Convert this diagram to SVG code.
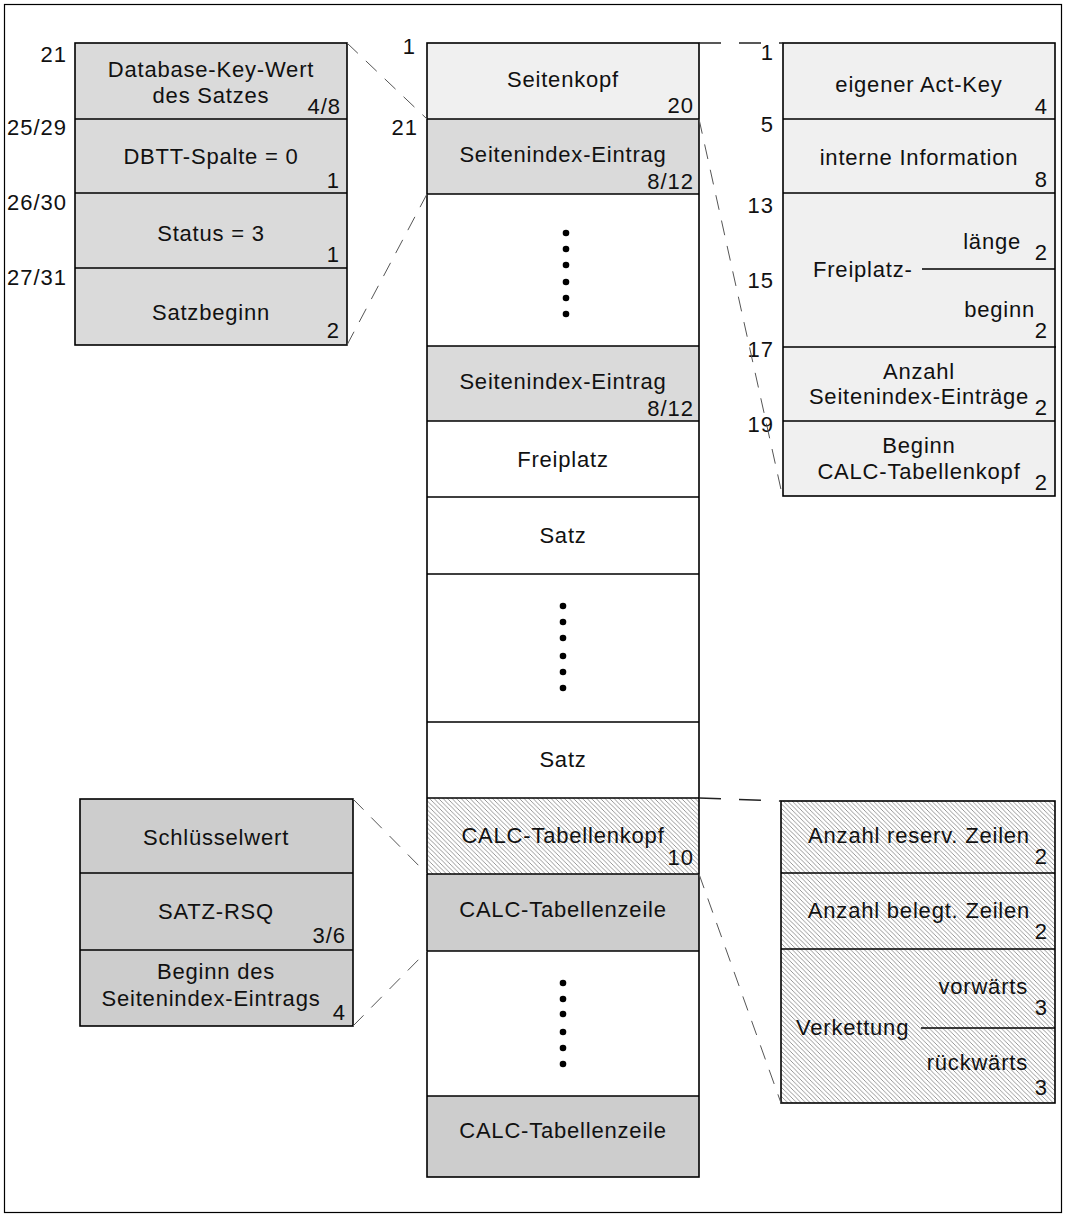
<svg xmlns="http://www.w3.org/2000/svg" width="1067" height="1217" viewBox="0 0 1067 1217">
  <defs>
    <pattern id="hatch" patternUnits="userSpaceOnUse" width="4.5" height="4.5">
      <rect width="4.5" height="4.5" fill="#ffffff"/>
      <path d="M-1,-1 L5.5,5.5 M-1,3.5 L1,5.5 M3.5,-1 L5.5,1" stroke="#8c8c8c" stroke-width="0.9"/>
    </pattern>
  </defs>
  <style>
    text { font-family: "Liberation Sans", Arial, sans-serif; font-size: 22px; fill: #111; }
    .t { letter-spacing: 0.8px; text-anchor: middle; }
    .n { letter-spacing: 1px; text-anchor: end; }
    .l { letter-spacing: 0.8px; text-anchor: start; }
    .e { letter-spacing: 0.8px; text-anchor: end; }
    .sep { stroke: #000; stroke-width: 1.6; fill: none; }
    .light { fill: #f0f0f0; }
    .mid { fill: #dadada; }
    .dark { fill: #cdcdcd; }
    .white { fill: #ffffff; }
    .hatched { fill: url(#hatch); }
    .dash { stroke: #555; stroke-width: 1; stroke-dasharray: 15 11; fill: none; }
    .hdash { stroke: #222; stroke-width: 1.6; stroke-dasharray: 22 18; fill: none; }
  </style>

  <!-- outer frame -->
  <rect x="4.5" y="4.5" width="1057" height="1208" fill="#ffffff" stroke="#000" stroke-width="1.2"/>

  <!-- page layout column -->
  <g id="page">
    <rect class="light" x="427" y="43" width="272" height="76"/>
    <rect class="mid" x="427" y="119" width="272" height="75"/>
    <rect class="white" x="427" y="194" width="272" height="152"/>
    <rect class="mid" x="427" y="346" width="272" height="75"/>
    <rect class="white" x="427" y="421" width="272" height="377"/>
    <rect class="hatched" x="427" y="798" width="272" height="76"/>
    <rect class="dark" x="427" y="874" width="272" height="77"/>
    <rect class="white" x="427" y="951" width="272" height="145"/>
    <rect class="dark" x="427" y="1096" width="272" height="81"/>
    <rect class="sep" x="427" y="43" width="272" height="1134"/>
    <path class="sep" d="M427,119H699 M427,194H699 M427,346H699 M427,421H699 M427,497H699 M427,574H699 M427,722H699 M427,798H699 M427,874H699 M427,951H699 M427,1096H699"/>

    <text class="n" x="416" y="54">1</text>
    <text class="n" x="418" y="135">21</text>

    <text class="t" x="563" y="87">Seitenkopf</text>
    <text class="n" x="694" y="113">20</text>
    <text class="t" x="563" y="162">Seitenindex-Eintrag</text>
    <text class="n" x="694" y="189">8/12</text>

    <g fill="#000">
      <circle cx="566" cy="233" r="3.3"/>
      <circle cx="566" cy="249" r="3.3"/>
      <circle cx="566" cy="265" r="3.3"/>
      <circle cx="566" cy="282" r="3.3"/>
      <circle cx="566" cy="298" r="3.3"/>
      <circle cx="566" cy="314" r="3.3"/>
    </g>

    <text class="t" x="563" y="389">Seitenindex-Eintrag</text>
    <text class="n" x="694" y="416">8/12</text>
    <text class="t" x="563" y="467">Freiplatz</text>
    <text class="t" x="563" y="543">Satz</text>

    <g fill="#000">
      <circle cx="563" cy="606" r="3.3"/>
      <circle cx="563" cy="622" r="3.3"/>
      <circle cx="563" cy="638" r="3.3"/>
      <circle cx="563" cy="656" r="3.3"/>
      <circle cx="563" cy="672" r="3.3"/>
      <circle cx="563" cy="688" r="3.3"/>
    </g>

    <text class="t" x="563" y="767">Satz</text>
    <text class="t" x="563" y="843">CALC-Tabellenkopf</text>
    <text class="n" x="694" y="865">10</text>
    <text class="t" x="563" y="917">CALC-Tabellenzeile</text>

    <g fill="#000">
      <circle cx="563" cy="983" r="3.3"/>
      <circle cx="563" cy="999" r="3.3"/>
      <circle cx="563" cy="1014" r="3.3"/>
      <circle cx="563" cy="1032" r="3.3"/>
      <circle cx="563" cy="1048" r="3.3"/>
      <circle cx="563" cy="1064" r="3.3"/>
    </g>

    <text class="t" x="563" y="1138">CALC-Tabellenzeile</text>
  </g>

  <!-- record index entry detail -->
  <g id="index-entry">
    <rect class="mid" x="75" y="43" width="272" height="302"/>
    <rect class="sep" x="75" y="43" width="272" height="302"/>
    <path class="sep" d="M75,119H347 M75,193H347 M75,268H347"/>
    <text class="n" x="67" y="62">21</text>
    <text class="n" x="67" y="135">25/29</text>
    <text class="n" x="67" y="210">26/30</text>
    <text class="n" x="67" y="285">27/31</text>
    <text class="t" x="211" y="77">Database-Key-Wert</text>
    <text class="t" x="211" y="103">des Satzes</text>
    <text class="n" x="341" y="114">4/8</text>
    <text class="t" x="211" y="164">DBTT-Spalte = 0</text>
    <text class="n" x="340" y="188">1</text>
    <text class="t" x="211" y="241">Status = 3</text>
    <text class="n" x="340" y="262">1</text>
    <text class="t" x="211" y="320">Satzbeginn</text>
    <text class="n" x="340" y="338">2</text>
  </g>

  <!-- page header detail -->
  <g id="page-header">
    <rect class="light" x="783" y="43" width="272" height="453"/>
    <rect class="sep" x="783" y="43" width="272" height="453"/>
    <path class="sep" d="M783,119H1055 M783,193H1055 M922,269H1055 M783,347H1056 M783,421H1055"/>
    <text class="n" x="774" y="60">1</text>
    <text class="n" x="774" y="132">5</text>
    <text class="n" x="774" y="213">13</text>
    <text class="n" x="774" y="288">15</text>
    <text class="n" x="774" y="357">17</text>
    <text class="n" x="774" y="432">19</text>
    <text class="t" x="919" y="92">eigener Act-Key</text>
    <text class="n" x="1048" y="114">4</text>
    <text class="t" x="919" y="165">interne Information</text>
    <text class="n" x="1048" y="187">8</text>
    <text class="l" x="813" y="277">Freiplatz-</text>
    <text class="e" x="1021" y="249">länge</text>
    <text class="n" x="1048" y="260">2</text>
    <text class="e" x="1035" y="317">beginn</text>
    <text class="n" x="1048" y="338">2</text>
    <text class="t" x="919" y="379">Anzahl</text>
    <text class="t" x="919" y="404">Seitenindex-Einträge</text>
    <text class="n" x="1048" y="415">2</text>
    <text class="t" x="919" y="453">Beginn</text>
    <text class="t" x="919" y="479">CALC-Tabellenkopf</text>
    <text class="n" x="1048" y="490">2</text>
  </g>

  <!-- CALC table header detail -->
  <g id="calc-header">
    <rect class="hatched" x="781" y="801" width="274" height="302"/>
    <rect class="sep" x="781" y="801" width="274" height="302"/>
    <path class="sep" d="M781,873H1055 M781,949H1055 M921,1028H1055"/>
    <text class="t" x="919" y="843">Anzahl reserv. Zeilen</text>
    <text class="n" x="1048" y="864">2</text>
    <text class="t" x="919" y="918">Anzahl belegt. Zeilen</text>
    <text class="n" x="1048" y="939">2</text>
    <text class="e" x="1028" y="994">vorwärts</text>
    <text class="n" x="1048" y="1015">3</text>
    <text class="l" x="796" y="1035">Verkettung</text>
    <text class="e" x="1028" y="1070">rückwärts</text>
    <text class="n" x="1048" y="1095">3</text>
  </g>

  <!-- CALC table row detail -->
  <g id="calc-row">
    <rect class="dark" x="80" y="799" width="273" height="227"/>
    <rect class="sep" x="80" y="799" width="273" height="227"/>
    <path class="sep" d="M80,873H353 M80,950H353"/>
    <text class="t" x="216" y="845">Schlüsselwert</text>
    <text class="t" x="216" y="919">SATZ-RSQ</text>
    <text class="n" x="346" y="943">3/6</text>
    <text class="t" x="216" y="979">Beginn des</text>
    <text class="t" x="211" y="1006">Seitenindex-Eintrags</text>
    <text class="n" x="346" y="1020">4</text>
  </g>

  <!-- connectors -->
  <g id="connectors">
    <path class="dash" d="M347,43 L427,119"/>
    <path class="dash" d="M347,345 L427,194"/>
    <path class="hdash" d="M699,43 L783,43"/>
    <path class="dash" d="M699,119 L782,494"/>
    <path class="hdash" d="M699,798 L781,801"/>
    <path class="dash" d="M699,874 L781,1103"/>
    <path class="dash" d="M353,799 L427,874"/>
    <path class="dash" d="M353,1026 L427,951"/>
  </g>
</svg>
